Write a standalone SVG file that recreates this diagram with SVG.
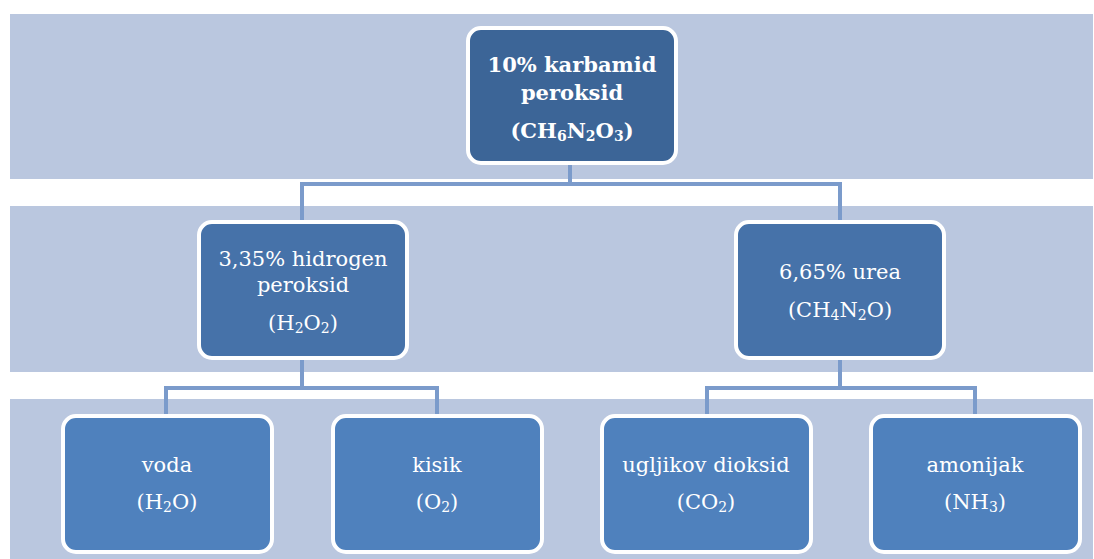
<svg xmlns="http://www.w3.org/2000/svg" width="1094" height="559" viewBox="0 0 1094 559">
<style>
.band{fill:#bac7df}
.conn{fill:none;stroke:#7b9bcb;stroke-width:4;stroke-linejoin:miter}
.node{stroke:#ffffff;stroke-width:4}
.n0{fill:#3c6597}
.n1{fill:#4672a9}
.n2{fill:#4f81bd}
text{font-family:"DejaVu Serif","Liberation Serif",serif;font-size:21px;fill:#ffffff;text-anchor:middle}
.b{font-weight:bold}
.s{font-size:14px}
</style>
<rect width="1094" height="559" fill="#ffffff"/>
<g id="bands">
<rect class="band" x="10" y="14" width="1083" height="165"/>
<rect class="band" x="10" y="206" width="1083" height="166"/>
<rect class="band" x="10" y="399" width="1083" height="160"/>
</g>
<g id="connectors">
<path class="conn" d="M570,163 V184 M302,222 V184 H840 V222"/>
<path class="conn" d="M302,358 V388 M166,415 V388 H437 V415"/>
<path class="conn" d="M840,358 V388 M707,415 V388 H975 V415"/>
</g>
<g id="n-karbamid">
<rect class="node n0" x="468" y="28" width="208" height="135" rx="13"/>
<text class="b" x="572" y="72">10% karbamid</text>
<text class="b" x="572" y="100">peroksid</text>
<text class="b" x="572" y="138">(CH<tspan class="s" dy="3">6</tspan><tspan dy="-3">N</tspan><tspan class="s" dy="3">2</tspan><tspan dy="-3">O</tspan><tspan class="s" dy="3">3</tspan><tspan dy="-3">)</tspan></text>
</g>
<g id="n-hidrogen">
<rect class="node n1" x="199" y="222" width="208" height="136" rx="13"/>
<text x="303" y="266">3,35% hidrogen</text>
<text x="303" y="292">peroksid</text>
<text x="303" y="330">(H<tspan class="s" dy="3">2</tspan><tspan dy="-3">O</tspan><tspan class="s" dy="3">2</tspan><tspan dy="-3">)</tspan></text>
</g>
<g id="n-urea">
<rect class="node n1" x="736" y="222" width="208" height="136" rx="13"/>
<text x="840" y="279">6,65% urea</text>
<text x="840" y="317">(CH<tspan class="s" dy="3">4</tspan><tspan dy="-3">N</tspan><tspan class="s" dy="3">2</tspan><tspan dy="-3">O)</tspan></text>
</g>
<g id="n-voda">
<rect class="node n2" x="63" y="416" width="209" height="136" rx="13"/>
<text x="167" y="472">voda</text>
<text x="167" y="509">(H<tspan class="s" dy="3">2</tspan><tspan dy="-3">O)</tspan></text>
</g>
<g id="n-kisik">
<rect class="node n2" x="333" y="416" width="209" height="136" rx="13"/>
<text x="437" y="472">kisik</text>
<text x="437" y="509">(O<tspan class="s" dy="3">2</tspan><tspan dy="-3">)</tspan></text>
</g>
<g id="n-ugljikov">
<rect class="node n2" x="602" y="416" width="209" height="136" rx="13"/>
<text x="706" y="472">ugljikov dioksid</text>
<text x="706" y="509">(CO<tspan class="s" dy="3">2</tspan><tspan dy="-3">)</tspan></text>
</g>
<g id="n-amonijak">
<rect class="node n2" x="871" y="416" width="209" height="136" rx="13"/>
<text x="975" y="472">amonijak</text>
<text x="975" y="509">(NH<tspan class="s" dy="3">3</tspan><tspan dy="-3">)</tspan></text>
</g>
</svg>
